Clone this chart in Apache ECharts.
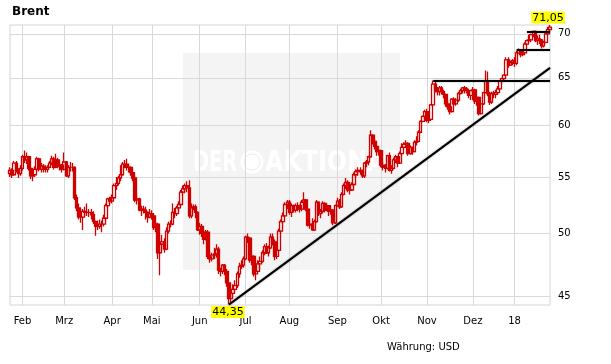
<!DOCTYPE html>
<html><head><meta charset="utf-8">
<script src="https://cdn.jsdelivr.net/npm/echarts@6/dist/echarts.min.js"></script>
<style>html,body{margin:0;padding:0;background:#fff}#c{width:611px;height:364px}</style>
</head><body><div id="c"></div>
<script>
const title = 'Brent';
const currencyNote = 'Währung: USD';
const monthLabels = ['Feb','Mrz','Apr','Mai','Jun','Jul','Aug','Sep','Okt','Nov','Dez','18'];
const yTicks = [45, 50, 55, 60, 65, 70];
const firstDay = '2017-01-24', lastDay = '2018-01-25';
const holidays = ['2017-04-14', '2017-12-25', '2018-01-01'];

// daily bars: [open, close, low, high]
const jan17 = [[55.3,55.6,55.0,55.9],[55.6,55.2,54.9,55.8],[55.2,56.3,55.1,56.5],[56.3,55.6,55.4,56.5],[55.6,55.3,54.9,55.8],[55.3,55.8,55.1,56.1]];
const feb17 = [[55.8,56.9,55.6,57.1],[56.9,56.6,56.3,57.5],[56.6,56.9,56.2,57.3],[56.9,55.8,55.6,57.0],[55.8,55.1,54.8,55.9],[55.1,55.2,54.6,55.6],[55.2,55.7,55.0,56.0],[55.7,56.7,55.6,56.9],[56.7,55.7,55.5,56.8],[55.7,56.0,55.4,56.3],[56.0,55.8,55.4,56.2],[55.8,55.7,55.4,56.1],[55.7,55.9,55.4,56.1],[55.9,56.3,55.8,56.5],[56.3,56.7,56.1,57.0],[56.7,55.9,55.7,56.9],[55.9,56.6,55.8,57.2],[56.6,56.0,55.8,56.8],[56.0,56.1,55.6,56.3],[56.1,55.7,55.4,56.2]];
const mar17 = [[55.7,56.4,55.6,57.3],[56.4,55.1,55.0,56.5],[55.1,55.9,54.9,56.1],[55.9,55.9,55.5,56.4],[55.9,55.9,55.5,56.3],[55.9,53.1,52.9,56.0],[53.1,52.2,51.9,53.4],[52.2,51.4,51.2,52.6],[51.4,51.4,50.9,51.9],[51.4,51.9,50.3,52.1],[51.9,51.8,51.4,52.3],[51.8,51.8,51.5,52.6],[51.8,51.8,51.4,52.1],[51.8,51.6,51.2,52.1],[51.6,51.0,50.8,51.9],[51.0,50.6,49.8,51.1],[50.6,50.6,50.3,51.1],[50.6,50.8,50.4,51.2],[50.8,50.8,50.1,51.1],[50.8,51.3,50.6,51.6],[51.3,52.4,51.2,52.6],[52.4,53.0,52.2,53.1],[53.0,52.8,52.6,53.2]];
const apr17 = [[52.8,53.1,52.6,53.4],[53.1,54.2,53.0,54.4],[54.2,54.4,53.8,55.0],[54.4,54.9,54.2,55.1],[54.9,55.2,54.6,56.1],[55.2,56.2,55.1,56.4],[56.2,56.2,55.8,56.6],[56.2,55.9,55.6,56.7],[55.9,55.9,55.4,56.2],[55.9,55.4,55.1,56.0],[55.4,54.9,54.6,55.5],[54.9,52.9,52.7,55.1],[52.9,53.0,52.5,53.5],[53.0,52.0,51.9,53.1],[52.0,52.1,51.5,52.4],[52.1,52.0,51.7,52.4],[52.0,51.8,51.2,52.3],[51.8,51.4,50.9,51.9],[51.4,51.7,51.3,52.1]];
const may17 = [[51.7,51.5,51.2,52.0],[51.5,50.5,50.3,51.6],[50.5,50.8,50.1,51.0],[50.8,48.4,47.9,50.9],[48.4,49.1,46.6,49.4],[49.1,49.3,48.6,49.9],[49.3,48.7,48.4,49.6],[48.7,50.2,48.6,50.5],[50.2,50.8,50.0,51.0],[50.8,50.8,50.5,51.1],[50.8,51.8,50.7,52.6],[51.8,51.7,51.3,52.2],[51.7,52.2,51.5,52.4],[52.2,52.5,51.9,52.8],[52.5,53.6,52.4,53.8],[53.6,53.9,53.4,54.2],[53.9,54.2,53.5,54.4],[54.2,54.0,53.6,54.6],[54.0,51.5,51.3,54.7],[51.5,52.2,51.3,52.6],[52.2,52.3,52.0,52.5],[52.3,51.8,51.3,52.5],[51.8,50.3,50.2,51.9]];
const jun17 = [[50.3,50.6,49.9,50.9],[50.6,50.0,49.7,50.8],[50.0,49.5,49.1,50.2],[49.5,50.1,49.4,50.3],[50.1,48.1,47.9,50.3],[48.1,47.9,47.6,48.5],[47.9,48.2,47.7,48.4],[48.2,48.3,47.9,48.8],[48.3,48.7,48.0,49.1],[48.7,47.0,46.7,48.9],[47.0,46.9,46.5,47.2],[46.9,47.4,46.7,47.5],[47.4,46.9,46.6,47.5],[46.9,46.0,45.7,47.1],[46.0,44.8,44.35,46.1],[44.8,45.2,44.5,45.6],[45.2,45.5,44.9,45.9],[45.5,45.8,45.3,46.2],[45.8,46.7,45.6,46.9],[46.7,47.3,46.4,47.6],[47.3,47.4,47.1,47.8],[47.4,47.9,47.2,48.1]];
const jul17 = [[47.9,49.7,47.8,49.8],[49.7,49.6,49.2,50.0],[49.6,47.8,47.6,49.7],[47.8,48.1,47.4,48.3],[48.1,46.7,46.5,48.2],[46.7,46.9,46.2,47.1],[46.9,47.5,46.8,47.8],[47.5,47.7,47.1,48.1],[47.7,48.4,47.6,48.6],[48.4,48.9,48.2,49.1],[48.9,48.4,48.3,49.2],[48.4,48.8,48.1,49.0],[48.8,49.7,48.7,50.0],[49.7,49.3,49.0,50.0],[49.3,48.1,47.8,49.5],[48.1,48.6,47.9,48.9],[48.6,50.2,48.5,50.4],[50.2,51.0,50.0,51.2],[51.0,51.5,50.8,51.8],[51.5,52.5,51.4,52.7],[52.5,52.7,52.1,52.9]];
const aug17 = [[52.7,51.8,51.6,52.9],[51.8,52.4,51.4,52.6],[52.4,52.0,51.8,52.5],[52.0,52.4,51.8,52.6],[52.4,52.4,51.9,52.7],[52.4,52.1,51.8,52.5],[52.1,52.7,51.9,52.9],[52.7,52.9,52.4,53.6],[52.9,52.1,51.9,53.0],[52.1,50.7,50.6,52.2],[50.7,50.8,50.4,51.2],[50.8,50.3,50.2,51.3],[50.3,51.0,50.2,51.2],[51.0,52.7,50.9,52.9],[52.7,51.7,51.5,52.8],[51.7,51.9,51.3,52.1],[51.9,52.6,51.7,52.8],[52.6,52.0,51.8,52.7],[52.0,52.4,51.9,52.6],[52.4,51.9,51.5,52.4],[51.9,52.0,51.6,52.3],[52.0,50.9,50.7,52.1],[50.9,52.4,50.8,52.5]];
const sep17 = [[52.4,52.8,52.3,53.1],[52.8,52.3,52.1,53.0],[52.3,53.4,52.2,53.6],[53.4,54.2,53.3,54.4],[54.2,54.5,53.9,54.9],[54.5,53.8,53.6,54.7],[53.8,53.8,53.4,54.1],[53.8,54.3,53.7,54.5],[54.3,55.2,54.1,55.4],[55.2,55.5,54.9,55.7],[55.5,55.6,55.1,55.9],[55.6,55.5,55.2,55.9],[55.5,55.1,54.9,55.7],[55.1,56.3,54.9,56.4],[56.3,56.4,55.9,56.6],[56.4,56.9,56.1,57.0],[56.9,59.0,56.8,59.5],[59.0,58.4,58.1,59.1],[58.4,57.9,57.6,58.6],[57.9,57.4,57.0,58.0],[57.4,57.5,57.0,57.8]];
const oct17 = [[57.5,56.1,55.9,57.6],[56.1,55.9,55.6,56.4],[55.9,55.8,55.4,56.2],[55.8,57.0,55.7,57.1],[57.0,55.6,55.5,57.3],[55.6,55.8,55.3,56.1],[55.8,56.6,55.7,56.8],[56.6,56.9,56.3,57.1],[56.9,56.3,55.9,57.0],[56.3,57.2,56.2,57.4],[57.2,57.8,57.0,58.2],[57.8,58.1,57.6,58.3],[58.1,58.2,57.8,58.5],[58.2,57.2,57.0,58.3],[57.2,57.8,57.1,58.0],[57.8,57.4,57.1,57.9],[57.4,58.3,57.3,58.5],[58.3,58.4,58.0,58.9],[58.4,59.3,58.3,59.5],[59.3,60.4,59.2,60.5],[60.4,60.9,60.3,61.0],[60.9,61.4,60.6,61.6]];
const nov17 = [[61.4,60.5,60.3,61.7],[60.5,60.6,60.2,61.0],[60.6,62.1,60.5,62.2],[62.1,64.3,62.0,64.7],[64.3,63.7,63.4,64.6],[63.7,63.5,63.1,64.0],[63.5,63.9,63.1,64.1],[63.9,63.5,63.2,64.1],[63.5,63.2,62.8,63.7],[63.2,62.2,61.9,63.3],[62.2,61.9,61.6,62.6],[61.9,61.4,61.1,62.1],[61.4,62.7,61.3,62.8],[62.7,62.2,62.0,62.9],[62.2,62.6,62.0,62.8],[62.6,63.3,62.4,63.5],[63.3,63.6,63.2,63.8],[63.6,63.9,63.3,64.0],[63.9,63.8,63.3,64.1],[63.8,63.6,63.3,64.0],[63.6,63.1,62.8,63.8],[63.1,63.6,62.6,63.7]];
const dec17 = [[63.6,63.7,62.6,64.0],[63.7,62.5,62.2,63.8],[62.5,62.9,62.0,63.0],[62.9,61.2,61.0,62.9],[61.2,62.2,61.1,62.3],[62.2,63.4,62.1,63.5],[63.4,64.7,63.3,65.8],[64.7,63.3,63.0,65.7],[63.3,62.4,62.1,63.5],[62.4,63.3,62.2,63.5],[63.3,63.2,62.8,63.6],[63.2,63.4,62.8,63.7],[63.4,63.8,63.2,64.1],[63.8,64.6,63.6,64.7],[64.6,64.9,64.3,65.0],[64.9,65.3,64.7,65.4],[65.3,67.0,65.2,67.3],[67.0,66.4,66.1,67.3],[66.4,66.7,66.3,66.9],[66.7,66.9,66.4,67.1]];
const jan18 = [[66.9,66.6,66.2,67.3],[66.6,67.8,66.4,68.0],[67.8,68.1,67.7,68.3],[68.1,67.6,67.3,68.2],[67.6,67.8,67.4,68.0],[67.8,68.8,67.7,69.0],[68.8,69.2,68.7,69.3],[69.2,69.3,69.0,69.9],[69.3,69.9,69.0,70.0],[69.9,70.3,69.6,70.4],[70.3,69.2,69.0,70.4],[69.2,69.4,68.7,69.8],[69.4,69.3,68.8,69.9],[69.3,68.6,68.3,69.4],[68.6,69.0,68.4,69.2],[69.0,70.0,68.9,70.1],[70.0,70.5,69.8,70.8],[70.5,70.8,70.2,71.05]];

// drawn chart lines (levels)
const levelStarts = ['2017-11-06', '2018-01-03', '2018-01-10'];
const levelValues = [64.7, 68.2, 70.2];
const trendDates = ['2017-06-21', '2018-01-25'];
const trendValues = [44.35, 66.1];

const ohlc = [].concat(jan17, feb17, mar17, apr17, may17, jun17, jul17, aug17, sep17, oct17, nov17, dec17, jan18);

// trading calendar
const iso = d => d.toISOString().slice(0, 10);
const dates = [];
for (let d = new Date(firstDay + 'T12:00:00Z'); iso(d) <= lastDay; d.setUTCDate(d.getUTCDate() + 1)) {
  const wd = d.getUTCDay(), s = iso(d);
  if (wd !== 0 && wd !== 6 && holidays.indexOf(s) < 0) dates.push(s);
}
const labelMap = {};
let m = 0;
for (let i = 1; i < dates.length; i++) {
  if (dates[i].slice(5, 7) !== dates[i - 1].slice(5, 7)) labelMap[i] = monthLabels[m++];
}

let hiIdx = 0, loIdx = 0;
ohlc.forEach((r, i) => { if (r[3] > ohlc[hiIdx][3]) hiIdx = i; if (r[2] < ohlc[loIdx][2]) loIdx = i; });
const fmtDe = v => v.toFixed(2).replace('.', ',');

const FONT = 'DejaVu Sans';
const RED = '#d00000';
const last = dates[dates.length - 1];

const chart = echarts.init(document.getElementById('c'), null, { renderer: 'canvas' });
chart.setOption({
  animation: false,
  backgroundColor: '#fff',
  grid: { left: 10, right: 61, top: 25, bottom: 59, show: true, borderColor: '#d4d4d4', borderWidth: 1, backgroundColor: 'transparent' },
  graphic: [
    { type: 'rect', z: -5, silent: true, shape: { x: 183, y: 53, width: 217, height: 217 }, style: { fill: '#f4f4f4' } },
    { type: 'text', z: -4, silent: true, x: 193, y: 150, scaleX: 0.69, style: { text: 'DER', fill: '#ffffff', font: 'bold 28px "DejaVu Sans"', textVerticalAlign: 'top' } },
    { type: 'circle', z: -4, silent: true, shape: { cx: 252, cy: 162, r: 11.5 }, style: { fill: '#ffffff' } },
    { type: 'circle', z: -4, silent: true, shape: { cx: 252, cy: 162, r: 8 }, style: { fill: 'none', stroke: '#ececec', lineWidth: 1 } },
    { type: 'text', z: -4, silent: true, x: 265, y: 150, scaleX: 0.85, style: { text: 'AKTIONÄR', fill: '#ffffff', font: 'bold 28px "DejaVu Sans"', textVerticalAlign: 'top' } },
    { type: 'rect', z: -3, silent: true, shape: { x: 400, y: 53, width: 30, height: 217 }, style: { fill: '#ffffff' } },
    { type: 'text', silent: true, x: 12, y: 6, style: { text: title, fill: '#000', font: 'bold 12px "DejaVu Sans"', textVerticalAlign: 'top' } },
    { type: 'text', silent: true, x: 387, y: 347, style: { text: currencyNote, fill: '#000', font: '10px "DejaVu Sans"', textVerticalAlign: 'middle' } }
  ],
  xAxis: {
    type: 'category', data: dates, boundaryGap: false,
    axisLine: { show: false }, axisTick: { show: false },
    axisLabel: { interval: i => labelMap[i] !== undefined, formatter: (v, i) => labelMap[i] || '', color: '#000', fontFamily: FONT, fontSize: 10, margin: 11 },
    splitLine: { show: true, interval: i => labelMap[i] !== undefined, lineStyle: { color: '#d9d9d9', width: 1 } }
  },
  yAxis: {
    type: 'log', logBase: 10, position: 'right', min: 44.32, max: 71.05,
    axisLine: { show: false },
    axisTick: { show: false, customValues: yTicks },
    axisLabel: { customValues: yTicks, formatter: v => String(Math.round(v)), color: '#000', fontFamily: FONT, fontSize: 10, margin: 8 },
    splitLine: { show: true, lineStyle: { color: '#d9d9d9', width: 1 } }
  },
  series: [{
    type: 'candlestick', data: ohlc, barWidth: 3,
    itemStyle: { color: 'rgba(0,0,0,0)', color0: RED, borderColor: RED, borderColor0: RED, borderWidth: 1.3 },
    emphasis: { disabled: true },
    markLine: {
      silent: true, symbol: 'none', animation: false,
      label: { show: false },
      lineStyle: { color: '#000', width: 2, type: 'solid', shadowBlur: 2, shadowColor: 'rgba(0,0,0,0.35)' },
      emphasis: { disabled: true },
      data: levelStarts.map((d, i) => [{ coord: [d, levelValues[i]] }, { coord: [last, levelValues[i]] }])
        .concat([[{ coord: [trendDates[0], trendValues[0]] }, { coord: [trendDates[1], trendValues[1]] }]])
    },
    markPoint: {
      silent: true, symbol: 'circle', symbolSize: 1, animation: false,
      itemStyle: { color: 'rgba(0,0,0,0)' },
      label: { show: true, color: '#000', backgroundColor: '#ffff00', fontFamily: FONT, fontSize: 11, padding: [1, 1, 0, 1] },
      data: [
        { coord: [dates[hiIdx], ohlc[hiIdx][3]], label: { position: 'top', distance: 1, offset: [-2, 0], formatter: fmtDe(ohlc[hiIdx][3]) } },
        { coord: [dates[loIdx], ohlc[loIdx][2]], label: { position: 'bottom', distance: 1, offset: [-1, 0], formatter: fmtDe(ohlc[loIdx][2]) } }
      ]
    }
  }]
});
</script></body></html>
